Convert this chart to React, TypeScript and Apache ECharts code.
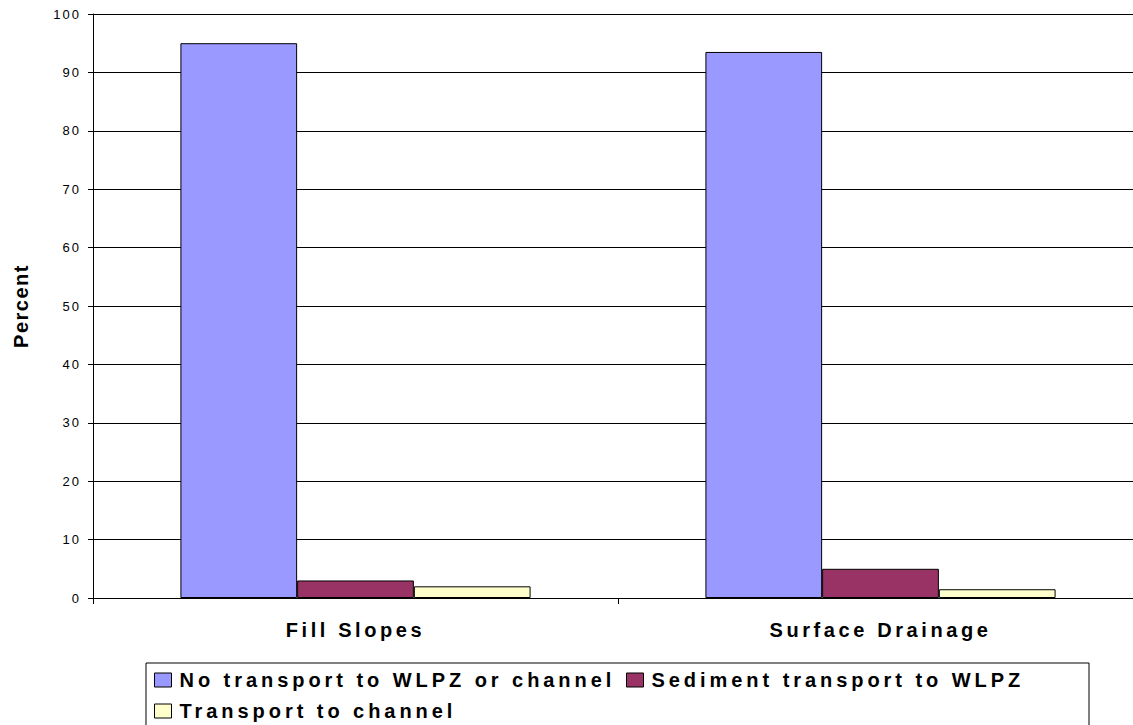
import React, { useEffect, useRef } from "react";
import * as echarts from "echarts";

const categories = ["Fill Slopes", "Surface Drainage"];
const seriesNames = [
  "No transport to WLPZ or channel",
  "Sediment transport to WLPZ",
  "Transport to channel",
];
const noTransport = [95, 93.5];
const sedimentToWLPZ = [3, 5];
const transportToChannel = [2, 1.5];
const yTicks = { min: 0, max: 100, interval: 10 };

const colors = ["#9999FF", "#993366", "#FFFFCC"];
const FONT = "'Liberation Sans', Arial, sans-serif";

function applySpacing(root: HTMLElement) {
  const texts = root.querySelectorAll("text");
  texts.forEach((t) => {
    const s = (t.textContent || "").trim();
    let sp = 3.6;
    if (/^\d+$/.test(s)) sp = 2;
    else if (s === "Percent") sp = 1.5;
    else if (seriesNames.indexOf(s) >= 0) sp = 3.95;
    t.setAttribute("letter-spacing", sp + "px");
  });
}

export default function App() {
  const ref = useRef<HTMLDivElement>(null);
  useEffect(() => {
    if (!ref.current) return;
    const chart = echarts.init(ref.current, undefined, { renderer: "svg" });
    const values = [noTransport, sedimentToWLPZ, transportToChannel];
    const legendBase = {
      selectedMode: false,
      padding: 0,
      itemWidth: 17,
      itemHeight: 14,
      icon: "rect",
      itemStyle: { borderColor: "#000", borderWidth: 1 },
      textStyle: {
        fontFamily: FONT,
        fontSize: 20,
        fontWeight: "bold",
        color: "#000",
        padding: [0, 0, 0, 3],
      },
    };
    chart.setOption({
      animation: false,
      backgroundColor: "#fff",
      grid: {
        left: 93,
        top: 14,
        right: -10,
        height: 584,
        containLabel: false,
        outerBoundsMode: "none",
      },
      xAxis: {
        type: "category",
        data: categories,
        axisLine: { show: true, lineStyle: { color: "#000", width: 1 } },
        axisTick: { show: true, length: 6, lineStyle: { color: "#000" } },
        axisLabel: {
          margin: 22,
          fontFamily: FONT,
          fontSize: 20,
          fontWeight: "bold",
          color: "#000",
        },
        splitLine: { show: false },
      },
      yAxis: {
        type: "value",
        min: yTicks.min,
        max: yTicks.max,
        interval: yTicks.interval,
        name: "Percent",
        nameLocation: "middle",
        nameGap: 62,
        nameRotate: 90,
        nameTextStyle: {
          fontFamily: FONT,
          fontSize: 20,
          fontWeight: "bold",
          color: "#000",
        },
        axisLine: { show: true, lineStyle: { color: "#000", width: 1 } },
        axisTick: { show: true, length: 5, lineStyle: { color: "#000" } },
        axisLabel: {
          margin: 12,
          fontFamily: FONT,
          fontSize: 13,
          color: "#000",
        },
        splitLine: { show: true, lineStyle: { color: "#000", width: 1 } },
      },
      legend: [
        { ...legendBase, data: [seriesNames[0]], left: 154, top: 670 },
        { ...legendBase, data: [seriesNames[1]], left: 626, top: 670 },
        { ...legendBase, data: [seriesNames[2]], left: 154, top: 701 },
      ],
      graphic: [
        {
          type: "rect",
          shape: { x: 146, y: 663, width: 943, height: 100 },
          style: { fill: "none", stroke: "#000", lineWidth: 1 },
          z: 0,
        },
      ],
      series: seriesNames.map((name, i) => ({
        name,
        type: "bar",
        data: values[i],
        barGap: "0%",
        barCategoryGap: "33.3%",
        itemStyle: { color: colors[i], borderColor: "#000", borderWidth: 1 },
      })),
    });
    const el = ref.current;
    applySpacing(el);
    const onRendered = () => applySpacing(el);
    chart.on("rendered", onRendered);
    const timer = setTimeout(() => applySpacing(el), 50);
    return () => {
      clearTimeout(timer);
      chart.off("rendered", onRendered);
      chart.dispose();
    };
  }, []);
  return (
    <div
      ref={ref}
      style={{ position: "absolute", left: 0, top: 0, width: 1133, height: 725 }}
    />
  );
}
